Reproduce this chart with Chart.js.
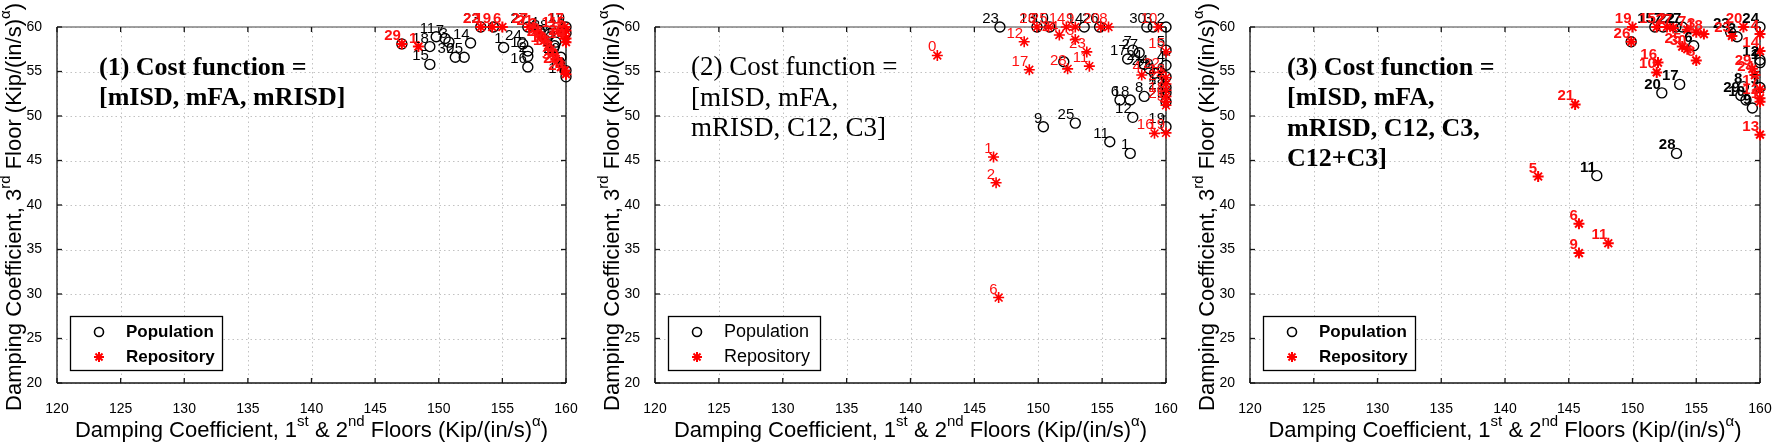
<!DOCTYPE html>
<html>
<head>
<meta charset="utf-8">
<script src="https://cdn.jsdelivr.net/npm/chart.js@4.4.1/dist/chart.umd.min.js"></script>
<style>
    html, body { margin: 0; padding: 0; background: #fff; }
    #wrap { position: relative; width: 1772px; height: 444px; overflow: hidden; }
    #wrap canvas { position: absolute; top: 0; }
</style>
</head>
<body>
<div id="wrap">
    <canvas id="c1"></canvas>
    <canvas id="c2"></canvas>
    <canvas id="c3"></canvas>
</div>
<script>
// ── Axes / text ─────────────────────────────────────────
const xTicks = [120, 125, 130, 135, 140, 145, 150, 155, 160];
const yTicks = [20, 25, 30, 35, 40, 45, 50, 55, 60];
const seriesNames = ['Population', 'Repository'];
const xTitle = [['Damping Coefficient, 1'], ['st', true], [' & 2'], ['nd', true], [' Floors (Kip/(in/s)'], ['\u03b1', true], [')']];
const yTitle = [['Damping Coefficient, 3'], ['rd', true], [' Floor (Kip/(in/s)'], ['\u03b1', true], [')']];
const p1Note = ['(1) Cost function =', '[mISD, mFA, mRISD]'];
const p2Note = ['(2) Cost function =', '[mISD, mFA,', 'mRISD, C12, C3]'];
const p3Note = ['(3) Cost function =', '[mISD, mFA,', 'mRISD, C12, C3,', 'C12+C3]'];

// ── Panel 1 ─────────────────────────────────────────────
const p1PopId = [11, 7, 18, 15, 30, 25, 14, 3, 1, 24, 12, 2, 16, 27, 4, 28, 5, 9, 20, 19, 22, 8, 17, null, 23, null];
const p1PopX = [149.8, 150.5, 149.3, 149.3, 151.3, 152.0, 152.5, 150.8, 155.1, 156.6, 157.0, 157.0, 157.0, 157.0, 157.9, 158.7, 159.2, 159.1, 159.6, 160.0, 160.0, 160.0, 160.0, 147.1, 153.3, 154.3];
const p1PopY = [58.9, 58.7, 57.8, 55.8, 56.6, 56.6, 58.2, 58.3, 57.7, 58.1, 57.3, 56.7, 55.5, 60.0, 59.6, 59.2, 58.3, 57.9, 56.6, 60.0, 59.3, 55.1, 54.4, 58.1, 60.0, 60.0];
const p1RepId = [29, 1, 22, 19, 6, 27, 21, 3, 8, 26, 10, 13, 2, 9, 30, 20, 4, 24, 17, 11, 7, 14, 5, 25];
const p1RepX = [147.1, 148.4, 153.3, 154.2, 155.0, 157.1, 157.5, 157.8, 158.0, 158.3, 158.6, 158.8, 159.0, 159.2, 159.5, 159.6, 159.9, 160.0, 159.9, 159.4, 159.8, 160.0, 160.0, 160.0];
const p1RepY = [58.1, 57.8, 60.0, 60.0, 60.0, 60.0, 59.8, 59.4, 58.9, 58.5, 57.9, 57.5, 57.0, 56.4, 56.0, 55.5, 55.1, 54.7, 60.0, 59.5, 59.0, 58.3, 59.6, 58.7];

// ── Panel 2 ─────────────────────────────────────────────
const p2PopId = [23, 13, 10, 14, 26, 30, 3, 2, 7, 27, 17, 4, 21, 24, 20, 6, 18, 8, 12, 19, 9, 25, 11, 1, null, 5, 16, 15, 22, 29];
const p2PopX = [147.0, 149.9, 150.9, 153.6, 154.8, 158.5, 159.0, 160.0, 157.4, 157.9, 157.0, 160.0, 158.3, 158.7, 159.1, 156.4, 157.2, 158.3, 157.4, 160.0, 150.4, 152.9, 155.6, 157.2, 152.0, 160.0, 160.0, 160.0, 160.0, 160.0];
const p2PopY = [60.0, 60.0, 60.0, 60.0, 60.0, 60.0, 60.0, 60.0, 57.4, 57.1, 56.4, 55.7, 55.8, 55.3, 54.8, 51.8, 51.8, 52.2, 49.85, 48.8, 48.8, 49.2, 47.1, 45.8, 56.1, 57.4, 54.4, 53.2, 52.6, 51.6];
const p2RepId = [0, 1, 2, 6, 12, 17, 26, 25, 14, 9, 24, 3, 23, 28, 11, 20, 8, 10, 15, 4, 22, 13, 27, 7, 18, 21, 5, 16, 19];
const p2RepX = [142.1, 146.5, 146.7, 146.9, 148.9, 149.3, 149.9, 150.8, 152.2, 152.9, 151.65, 152.9, 153.8, 152.3, 154.0, 154.9, 155.5, 159.4, 160.0, 158.1, 159.6, 160.0, 160.0, 160.0, 160.0, 160.0, 160.0, 159.1, 160.0];
const p2RepY = [56.8, 45.4, 42.5, 29.6, 58.35, 55.2, 60.0, 60.0, 60.0, 60.0, 59.1, 58.6, 57.2, 55.3, 55.6, 60.0, 60.0, 60.0, 57.2, 54.6, 54.9, 54.3, 53.6, 52.9, 52.2, 51.6, 51.2, 48.05, 48.1];

// ── Panel 3 ─────────────────────────────────────────────
const p3PopId = [11, 28, 20, 17, null, 15, 7, 22, 27, 6, 23, 2, 24, 12, 1, 8, 3, 29, 10, 9];
const p3PopX = [147.2, 153.45, 152.3, 153.7, 149.9, 151.75, 152.4, 153.4, 153.9, 154.8, 157.7, 158.2, 160.0, 160.0, 160.0, 158.7, 160.0, 158.5, 158.9, 159.4];
const p3PopY = [43.3, 45.8, 52.6, 53.55, 58.35, 60.0, 60.0, 60.0, 60.0, 57.9, 59.4, 58.9, 60.0, 56.3, 56.0, 53.3, 53.2, 52.3, 51.8, 50.9];
const p3RepId = [5, 6, 9, 11, 21, 19, 26, 16, 10, 15, 2, 27, 7, 3, 18, 25, 30, 8, 23, 20, 4, 14, 29, 24, 17, 12, 1, 13];
const p3RepX = [142.6, 145.8, 145.8, 148.1, 145.5, 150.0, 149.9, 152.0, 151.9, 151.9, 152.7, 153.2, 154.3, 155.0, 155.6, 153.9, 154.3, 155.0, 157.8, 158.7, 160.0, 160.0, 159.4, 159.6, 160.0, 160.0, 160.0, 160.0];
const p3RepY = [43.2, 37.9, 34.6, 35.7, 51.3, 60.0, 58.35, 56.0, 54.9, 60.0, 60.0, 59.9, 59.7, 59.4, 59.2, 57.8, 57.5, 56.25, 59.0, 60.0, 59.2, 57.3, 55.3, 54.6, 53.0, 52.0, 51.6, 47.9];

(function () {
    const SANS = '"Liberation Sans", Arial, Helvetica, sans-serif';
    const SERIF = '"Liberation Serif", "Times New Roman", serif';
    const RED = '#ff0000';

    Chart.defaults.font.family = SANS;
    Chart.defaults.color = '#000';

    // layout of the three canvases (pixels)
    const PANELS = [
        { canvas: 'c1', left: 0, width: 592, plotLeft: 57, plotRight: 566, noteX: 42, bold: true,
          popX: p1PopX, popY: p1PopY, popId: p1PopId, repX: p1RepX, repY: p1RepY, repId: p1RepId, note: p1Note },
        { canvas: 'c2', left: 596, width: 594, plotLeft: 59, plotRight: 570, noteX: 36, bold: false,
          popX: p2PopX, popY: p2PopY, popId: p2PopId, repX: p2RepX, repY: p2RepY, repId: p2RepId, note: p2Note },
        { canvas: 'c3', left: 1190, width: 582, plotLeft: 60, plotRight: 570, noteX: 37, bold: true,
          popX: p3PopX, popY: p3PopY, popId: p3PopId, repX: p3RepX, repY: p3RepY, repId: p3RepId, note: p3Note }
    ];

    const toPts = (xs, ys) => xs.map((x, i) => ({ x, y: ys[i] }));

    function seg(ctx, x1, y1, x2, y2) {
        ctx.beginPath();
        ctx.moveTo(x1, y1);
        ctx.lineTo(x2, y2);
        ctx.stroke();
    }

    // text with superscript parts, centred on (cx, cy)
    function richText(ctx, parts, cx, cy, size) {
        const fontFor = sup => `${sup ? Math.round(size * 0.68) : size}px ${SANS}`;
        let total = 0;
        parts.forEach(([t, sup]) => { ctx.font = fontFor(sup); total += ctx.measureText(t).width; });
        let x = cx - total / 2;
        ctx.textAlign = 'left';
        ctx.textBaseline = 'middle';
        parts.forEach(([t, sup]) => {
            ctx.font = fontFor(sup);
            ctx.fillText(t, x, sup ? cy - size * 0.4 : cy);
            x += ctx.measureText(t).width;
        });
    }

    function asterisk(ctx, x, y, r) {
        for (let k = 0; k < 4; k++) {
            const ang = k * Math.PI / 4;
            seg(ctx, x - r * Math.cos(ang), y - r * Math.sin(ang), x + r * Math.cos(ang), y + r * Math.sin(ang));
        }
    }

    function makeDecor(p) {
        const weight = p.bold ? 'bold ' : '';
        return {
            id: 'decor',
            beforeDatasetsDraw(chart) {
                const { ctx, chartArea: a, scales: { x, y } } = chart;
                ctx.save();
                // dotted grid
                ctx.strokeStyle = '#c2c2c2';
                ctx.lineWidth = 1;
                ctx.setLineDash([1.5, 3]);
                xTicks.forEach(v => { const px = Math.round(x.getPixelForValue(v)) + 0.5; seg(ctx, px, a.top, px, a.bottom); });
                yTicks.forEach(v => { const py = Math.round(y.getPixelForValue(v)) + 0.5; seg(ctx, a.left, py, a.right, py); });
                ctx.setLineDash([]);
                // box
                ctx.lineWidth = 1.3;
                ctx.strokeStyle = '#808080';
                seg(ctx, a.left, a.top, a.right, a.top);
                ctx.strokeStyle = '#151515';
                seg(ctx, a.left, a.top, a.left, a.bottom);
                seg(ctx, a.left, a.bottom, a.right, a.bottom);
                seg(ctx, a.right, a.top, a.right, a.bottom);
                // inward tick marks on all four sides
                xTicks.forEach(v => {
                    const px = x.getPixelForValue(v);
                    seg(ctx, px, a.bottom, px, a.bottom - 5);
                    seg(ctx, px, a.top, px, a.top + 5);
                });
                yTicks.forEach(v => {
                    const py = y.getPixelForValue(v);
                    seg(ctx, a.left, py, a.left + 5, py);
                    seg(ctx, a.right, py, a.right - 5, py);
                });
                ctx.restore();
            },
            afterDatasetsDraw(chart) {
                const ctx = chart.ctx;
                ctx.save();
                ctx.textAlign = 'right';
                ctx.textBaseline = 'alphabetic';
                // population labels first, repository labels on top
                [[0, p.popId, '#000', p.bold && p.canvas === 'c3'], [1, p.repId, '#ff1010', p.bold]].forEach(([di, ids, col, b]) => {
                    ctx.font = `${b ? 'bold ' : ''}15px ${SANS}`;
                    ctx.fillStyle = col;
                    chart.getDatasetMeta(di).data.forEach((pt, i) => {
                        if (ids[i] === null) return;
                        ctx.fillText(String(ids[i]), pt.x - 1, pt.y - 4);
                    });
                });
                ctx.restore();
            },
            afterDraw(chart) {
                const { ctx, chartArea: a } = chart;
                ctx.save();
                ctx.fillStyle = '#000';
                // axis titles
                richText(ctx, xTitle, (a.left + a.right) / 2, 431, 22);
                ctx.save();
                ctx.translate(a.left - 42, (a.top + a.bottom) / 2 + 2);
                ctx.rotate(-Math.PI / 2);
                richText(ctx, yTitle, 0, 0, 22);
                ctx.restore();
                // cost-function note
                ctx.font = `${p.bold ? 'bold 26px' : '27px'} ${SERIF}`;
                ctx.textAlign = 'left';
                ctx.textBaseline = 'middle';
                p.note.forEach((line, i) => ctx.fillText(line, a.left + p.noteX, 68 + i * 30.5));
                // legend
                const lx = a.left + 13, ly = a.bottom - 67, lw = 152, lh = 54;
                ctx.fillStyle = '#fff';
                ctx.fillRect(lx, ly, lw, lh);
                ctx.strokeStyle = '#000';
                ctx.lineWidth = 1.3;
                ctx.strokeRect(lx + 0.5, ly + 0.5, lw, lh);
                ctx.lineWidth = 1.6;
                ctx.beginPath();
                ctx.arc(lx + 29, ly + 16, 4.5, 0, Math.PI * 2);
                ctx.stroke();
                ctx.strokeStyle = RED;
                ctx.lineWidth = 2;
                asterisk(ctx, lx + 29, ly + 41, 5);
                ctx.fillStyle = '#000';
                ctx.font = `${weight}${p.bold ? 17 : 18}px ${SANS}`;
                ctx.textAlign = 'left';
                ctx.fillText(seriesNames[0], lx + 56, ly + 16);
                ctx.fillText(seriesNames[1], lx + 56, ly + 41);
                ctx.restore();
            }
        };
    }

    PANELS.forEach(p => {
        const cv = document.getElementById(p.canvas);
        cv.style.left = p.left + 'px';
        cv.width = p.width;
        cv.height = 444;
        cv.style.width = p.width + 'px';
        cv.style.height = '444px';

        new Chart(cv, {
            type: 'scatter',
            data: {
                datasets: [{
                    label: seriesNames[0],
                    data: toPts(p.popX, p.popY),
                    pointStyle: 'circle',
                    pointRadius: 5,
                    pointBorderWidth: 1.4,
                    pointBorderColor: '#000',
                    pointBackgroundColor: 'rgba(0,0,0,0)',
                    clip: false,
                    order: 2
                }, {
                    label: seriesNames[1],
                    data: toPts(p.repX, p.repY),
                    pointStyle: 'star',
                    pointRadius: 5.5,
                    pointBorderWidth: p.bold ? 2 : 1.6,
                    pointBorderColor: RED,
                    pointBackgroundColor: RED,
                    clip: false,
                    order: 1
                }]
            },
            options: {
                responsive: false,
                maintainAspectRatio: false,
                animation: false,
                events: [],
                layout: { padding: { top: 27, right: p.width - p.plotRight, left: 0, bottom: 0 } },
                plugins: { legend: { display: false }, tooltip: { enabled: false } },
                scales: {
                    x: {
                        type: 'linear', min: 120, max: 160,
                        grid: { display: false }, border: { display: false },
                        afterBuildTicks: s => { s.ticks = xTicks.map(v => ({ value: v })); },
                        ticks: { padding: 10, font: { size: 14 }, color: '#000', maxRotation: 0, autoSkip: false },
                        afterFit: s => { s.height = 61; s.paddingLeft = 0; s.paddingRight = 0; }
                    },
                    y: {
                        type: 'linear', min: 20, max: 60,
                        grid: { display: false }, border: { display: false },
                        afterBuildTicks: s => { s.ticks = yTicks.map(v => ({ value: v })); },
                        ticks: { padding: 7, font: { size: 14 }, color: '#000', autoSkip: false },
                        afterFit: s => { s.width = p.plotLeft; s.paddingTop = 0; s.paddingBottom = 0; }
                    }
                }
            },
            plugins: [makeDecor(p)]
        });
    });
})();
</script>
</body>
</html>
